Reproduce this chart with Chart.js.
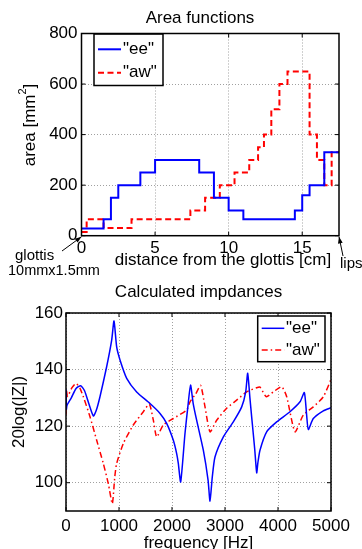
<!DOCTYPE html>
<html>
<head>
<meta charset="utf-8">
<script src="https://cdn.jsdelivr.net/npm/chart.js@4.4.1/dist/chart.umd.min.js"></script>
<style>
  html, body { margin: 0; padding: 0; background: #fff; overflow: hidden; }
  #wrap { position: relative; width: 362px; height: 549px; overflow: hidden; }
  canvas { position: absolute; left: 0; }
  #chartArea { top: 0; }
  #chartImp { top: 280px; }
</style>
</head>
<body>
<div id="wrap">
  <canvas id="chartArea" width="362" height="280"></canvas>
  <canvas id="chartImp" width="362" height="280"></canvas>
</div>
<script>
// Funciones de área (inicio de cada tramo en cm, último punto = fin del tubo)
const AREA_X_EE = [0, 1.5, 2, 2.5, 4, 5, 8, 9, 10, 11, 14.5, 15, 15.5, 16.5, 17.5];
const AREA_EE = [28, 65, 150, 200, 250, 300, 250, 150, 100, 65, 100, 160, 200, 330, 330];
const AREA_X_AW = [0, 0.35, 1.5, 3.4, 7.4, 8.4, 9.4, 10.4, 11.4, 12, 12.4, 12.9, 13.45, 14, 15.5, 16, 16.5, 17, 17.5];
const AREA_AW = [15, 65, 30, 65, 100, 150, 200, 250, 300, 350, 400, 500, 600, 650, 400, 300, 200, 330, 330];
const AREA_X_TICKS = [0, 5, 10, 15];
const AREA_Y_TICKS = [0, 200, 400, 600, 800];

// Impedancias calculadas (Hz, dB)
const FREQ_EE = [0, 8, 20, 100, 190, 277, 350, 430, 516, 570, 641, 767, 862, 906, 956, 1019, 1145, 1333, 1585, 1774, 1899, 2025, 2088, 2119, 2164, 2245, 2300, 2350, 2400, 2465, 2591, 2680, 2717, 2760, 2811, 2969, 3157, 3315, 3390, 3428, 3470, 3503, 3560, 3598, 3620, 3660, 3786, 3975, 4226, 4415, 4497, 4540, 4572, 4666, 4855, 5000];
const IMP_EE = [133, 126, 127.4, 130, 133.3, 134.3, 132.5, 128, 123.6, 125.5, 130.4, 141, 150.4, 157.2, 148, 143.4, 136.9, 132.1, 128, 124.5, 121, 115, 110.3, 106.8, 100.3, 117.4, 127, 134.5, 128, 122.1, 111.5, 101, 93.5, 102, 109.1, 116.2, 121.5, 126.8, 132, 138.7, 130, 123.3, 112, 103.5, 107, 111.5, 118, 121.5, 125.1, 128.6, 131.9, 124, 118.8, 122.7, 125.4, 126.5];
const FREQ_AW = [0, 5, 30, 110, 189, 260, 327, 453, 579, 704, 798, 874, 920, 956, 1082, 1270, 1459, 1572, 1648, 1711, 1836, 2025, 2277, 2340, 2450, 2540, 2623, 2717, 2843, 3031, 3220, 3409, 3598, 3660, 3780, 3911, 4070, 4164, 4321, 4477, 4666, 4855, 5000];
const IMP_AW = [124, 133, 130.5, 133.5, 135.1, 133.5, 130.4, 123.3, 115, 106.8, 99.7, 92.6, 102, 106.8, 113.9, 120.4, 125.1, 127.8, 122.1, 116.2, 120.4, 122.7, 125.7, 128.6, 131.5, 134.4, 126.8, 118, 122.1, 126.3, 129.2, 132.1, 133.6, 133.8, 130.4, 132.1, 133.9, 130.4, 118, 123.9, 126.8, 130.4, 136.5];
const IMP_X_TICKS = [0, 1000, 2000, 3000, 4000, 5000];
const IMP_Y_TICKS = [100, 120, 140, 160];

const LEGEND_LABELS = ['"ee"', '"aw"'];
const FONT = "'Liberation Sans', Arial, sans-serif";
const GRID_COLOR = "#a0a0a0";

function toPoints(xs, ys) {
  return xs.map((x, i) => ({ x: x, y: ys[i] }));
}

function fixedTicks(values) {
  return (s) => { s.ticks = values.map((v) => ({ value: v })); };
}

// Marco negro, marcas de escala interiores y leyenda con recuadro (estilo MATLAB)
const framePlugin = {
  id: "frame",
  afterDraw(chart, args, opts) {
    const ctx = chart.ctx;
    const a = chart.chartArea;
    const xs = chart.scales.x;
    const ys = chart.scales.y;
    ctx.save();
    ctx.strokeStyle = "#000";
    ctx.lineWidth = 1;
    ctx.setLineDash([]);
    ctx.beginPath();
    xs.ticks.forEach((t) => {
      const px = xs.getPixelForValue(t.value);
      ctx.moveTo(px, a.bottom); ctx.lineTo(px, a.bottom - 4);
      ctx.moveTo(px, a.top); ctx.lineTo(px, a.top + 4);
    });
    ys.ticks.forEach((t) => {
      const py = ys.getPixelForValue(t.value);
      ctx.moveTo(a.left, py); ctx.lineTo(a.left + 4, py);
      ctx.moveTo(a.right, py); ctx.lineTo(a.right - 4, py);
    });
    ctx.stroke();

    // leyenda
    const lg = opts.legend;
    ctx.fillStyle = "#fff";
    ctx.fillRect(lg.x, lg.y, lg.w, lg.h);
    ctx.lineWidth = 1.5;
    ctx.strokeRect(lg.x, lg.y, lg.w, lg.h);
    ctx.font = "17px " + FONT;
    ctx.textBaseline = "middle";
    ctx.textAlign = "left";
    chart.data.datasets.forEach((ds, i) => {
      const yy = lg.rows[i];
      ctx.strokeStyle = ds.borderColor;
      ctx.lineWidth = ds.borderWidth;
      ctx.setLineDash(ds.borderDash || []);
      ctx.beginPath();
      ctx.moveTo(lg.lineX0, yy);
      ctx.lineTo(lg.lineX1, yy);
      ctx.stroke();
      ctx.fillStyle = "#000";
      ctx.fillText(ds.label, lg.textX, yy);
    });
    ctx.setLineDash([]);

    ctx.strokeStyle = "#000";
    ctx.lineWidth = 1.5;
    ctx.strokeRect(a.left, a.top, a.right - a.left, a.bottom - a.top);
    ctx.restore();
  },
};

function arrow(ctx, x0, y0, x1, y1) {
  const ang = Math.atan2(y1 - y0, x1 - x0);
  ctx.beginPath();
  ctx.moveTo(x0, y0);
  ctx.lineTo(x1, y1);
  ctx.stroke();
  ctx.beginPath();
  ctx.moveTo(x1, y1);
  ctx.lineTo(x1 - 7 * Math.cos(ang - 0.35), y1 - 7 * Math.sin(ang - 0.35));
  ctx.lineTo(x1 - 7 * Math.cos(ang + 0.35), y1 - 7 * Math.sin(ang + 0.35));
  ctx.closePath();
  ctx.fill();
}

// Textos del gráfico de áreas: título, etiquetas de ejes, glotis y labios
const areaNotesPlugin = {
  id: "areaNotes",
  afterDraw(chart) {
    const ctx = chart.ctx;
    const xs = chart.scales.x;
    const ys = chart.scales.y;
    const x0 = xs.getPixelForValue(0);
    const y0 = ys.getPixelForValue(0);
    const xEnd = xs.getPixelForValue(17.5);
    ctx.save();
    ctx.fillStyle = "#000";
    ctx.strokeStyle = "#000";
    ctx.lineWidth = 1;

    ctx.font = "17px " + FONT;
    ctx.textAlign = "center";
    ctx.textBaseline = "middle";
    ctx.fillText("Area functions", 200, 18);
    ctx.fillText("distance from the glottis [cm]", 223, 260);

    // etiqueta del eje y con superíndice
    ctx.save();
    ctx.translate(30, 125);
    ctx.rotate(-Math.PI / 2);
    ctx.textAlign = "left";
    const t1 = "area [mm";
    const w1 = ctx.measureText(t1).width;
    ctx.font = "11px " + FONT;
    const w2 = ctx.measureText("2").width;
    ctx.font = "17px " + FONT;
    const w3 = ctx.measureText("]").width;
    const start = -(w1 + w2 + w3) / 2;
    ctx.fillText(t1, start, 0);
    ctx.font = "11px " + FONT;
    ctx.fillText("2", start + w1, -7);
    ctx.font = "17px " + FONT;
    ctx.fillText("]", start + w1 + w2, 0);
    ctx.restore();

    ctx.font = "15px " + FONT;
    ctx.textAlign = "left";
    ctx.fillText("glottis", 15, 256);
    ctx.font = "14.5px " + FONT;
    ctx.fillText("10mmx1.5mm", 8, 271);
    arrow(ctx, 62, 251, x0, y0 + 1);

    ctx.font = "15px " + FONT;
    ctx.fillText("lips", 340, 264);
    arrow(ctx, 343, 256, xEnd, y0 + 1);
    ctx.restore();
  },
};

function gridOpts() {
  return { color: GRID_COLOR, lineWidth: 1, drawTicks: false };
}

function tickOpts(pad) {
  return { padding: pad, color: "#000", autoSkip: false, font: { family: FONT, size: 17 }, callback: (v) => String(v) };
}

function crearGraficoAreas() {
  const ctx = document.getElementById("chartArea").getContext("2d");
  new Chart(ctx, {
    type: "line",
    data: {
      datasets: [
        {
          label: LEGEND_LABELS[0],
          data: toPoints(AREA_X_EE, AREA_EE),
          borderColor: "#0000ff",
          borderWidth: 2,
          stepped: "before",
          pointRadius: 0,
          fill: false,
        },
        {
          label: LEGEND_LABELS[1],
          data: toPoints(AREA_X_AW, AREA_AW),
          borderColor: "#ff0000",
          borderWidth: 2,
          borderDash: [6, 3.5],
          stepped: "before",
          pointRadius: 0,
          fill: false,
        },
      ],
    },
    options: {
      responsive: false,
      animation: false,
      devicePixelRatio: 1,
      layout: { padding: { left: 0, right: 23, top: 33.5, bottom: 0 } },
      plugins: {
        legend: { display: false },
        tooltip: { enabled: false },
        title: { display: false },
        frame: {
          legend: { x: 94, y: 34, w: 69, h: 51.5, lineX0: 98, lineX1: 121, textX: 123, rows: [49.3, 72.7] },
        },
      },
      scales: {
        x: {
          type: "linear",
          min: 0,
          max: 17.5,
          afterFit: (s) => { s.height = 44.3; },
          afterBuildTicks: fixedTicks(AREA_X_TICKS),
          ticks: tickOpts(2.6),
          grid: gridOpts(),
          border: { display: false, dash: [1, 2] },
        },
        y: {
          min: 0,
          max: 800,
          afterFit: (s) => { s.width = 81.5; },
          afterBuildTicks: fixedTicks(AREA_Y_TICKS),
          ticks: tickOpts(4),
          grid: gridOpts(),
          border: { display: false, dash: [1, 2] },
        },
      },
    },
    plugins: [framePlugin, areaNotesPlugin],
  });
}

function crearGraficoImpedancias() {
  const ctx = document.getElementById("chartImp").getContext("2d");
  new Chart(ctx, {
    type: "line",
    data: {
      datasets: [
        {
          label: LEGEND_LABELS[0],
          data: toPoints(FREQ_EE, IMP_EE),
          borderColor: "#0000ff",
          borderWidth: 1.5,
          pointRadius: 0,
          tension: 0.2,
          fill: false,
        },
        {
          label: LEGEND_LABELS[1],
          data: toPoints(FREQ_AW, IMP_AW),
          borderColor: "#ff0000",
          borderWidth: 1.5,
          borderDash: [6, 3, 1.5, 3],
          pointRadius: 0,
          tension: 0.2,
          fill: false,
        },
      ],
    },
    options: {
      responsive: false,
      animation: false,
      devicePixelRatio: 1,
      layout: { padding: { left: 0, right: 31, top: 0, bottom: 0 } },
      plugins: {
        legend: { display: false },
        tooltip: { enabled: false },
        title: {
          display: true,
          fullSize: false,
          text: "Calculated impdances",
          color: "#000",
          font: { family: FONT, size: 17, weight: "normal" },
          padding: { top: 2, bottom: 10.6 },
        },
        frame: {
          legend: { x: 257.7, y: 36, w: 67.3, h: 45.7, lineX0: 261.7, lineX1: 284.3, textX: 286, rows: [48.3, 70] },
        },
      },
      scales: {
        x: {
          type: "linear",
          min: 0,
          max: 5000,
          afterFit: (s) => { s.height = 49; },
          afterBuildTicks: fixedTicks(IMP_X_TICKS),
          ticks: tickOpts(4.8),
          grid: gridOpts(),
          border: { display: false, dash: [1, 2] },
          title: {
            display: true,
            text: "frequency [Hz]",
            color: "#000",
            font: { family: FONT, size: 17 },
            padding: { top: 0, bottom: 6.8 },
          },
        },
        y: {
          min: 90,
          max: 160,
          afterFit: (s) => { s.width = 66; },
          afterBuildTicks: fixedTicks(IMP_Y_TICKS),
          ticks: tickOpts(3),
          grid: gridOpts(),
          border: { display: false, dash: [1, 2] },
          title: {
            display: true,
            text: "20log(|Z|)",
            color: "#000",
            font: { family: FONT, size: 17 },
            padding: { top: 9, bottom: 0 },
          },
        },
      },
    },
    plugins: [framePlugin],
  });
}

crearGraficoAreas();
crearGraficoImpedancias();
</script>
</body>
</html>
